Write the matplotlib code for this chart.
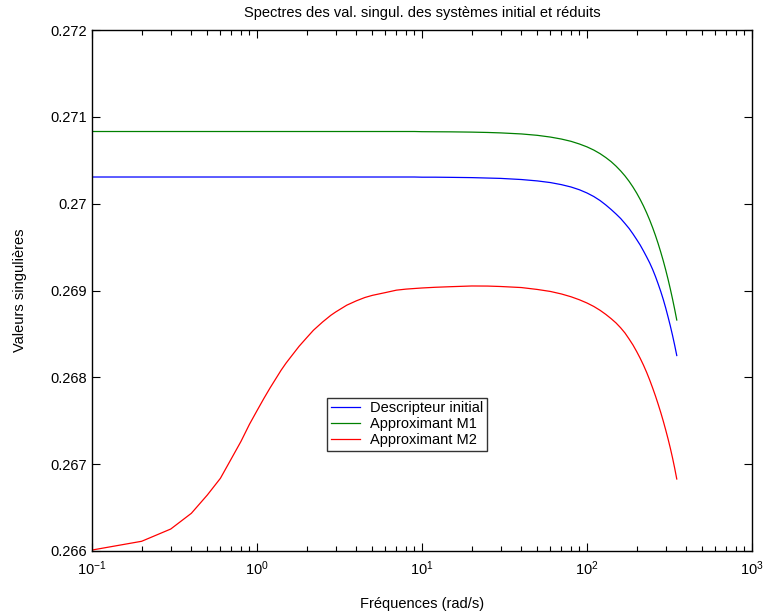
import matplotlib
matplotlib.use("Agg")
import matplotlib.pyplot as plt
from matplotlib.ticker import FixedLocator, FixedFormatter, LogLocator, NullFormatter

plt.rcParams['font.family'] = ['Liberation Sans', 'DejaVu Sans']
plt.rcParams['mathtext.fontset'] = 'custom'
plt.rcParams['mathtext.rm'] = 'Liberation Sans'
plt.rcParams['mathtext.it'] = 'Liberation Sans'
plt.rcParams['mathtext.default'] = 'regular'

# Frequency grid (rad/s)
freqs = [0.1, 0.2, 0.3, 0.4, 0.5, 0.6, 0.7, 0.8, 0.9, 1.0,
         1.1, 1.2, 1.3, 1.4, 1.5, 1.6, 1.8, 2.0, 2.2, 2.5, 2.8,
         3.0, 3.5, 4, 4.5, 5, 6, 7, 8, 9, 10,
         12, 15, 20, 25, 30, 40, 50, 60, 70, 80, 90,
         100, 110, 120, 130, 140, 150, 160, 170, 180, 190, 200,
         210, 220, 230, 240, 250, 260, 270, 280, 290, 300,
         310, 320, 330, 340, 350]

# Singular values of the initial descriptor system
sv_initial = [0.270307] * 30 + [
    0.270305,
    0.270305, 0.270303, 0.270300, 0.270295, 0.270291, 0.270278,
    0.270262, 0.270243, 0.270219, 0.270192, 0.270160,
    0.270123, 0.270082, 0.270036, 0.269985, 0.269933, 0.269881,
    0.269829, 0.269771, 0.269714, 0.269651, 0.269587, 0.269524,
    0.269455, 0.269386, 0.269317, 0.269242, 0.269161, 0.269075,
    0.268988, 0.268896, 0.268798, 0.268695, 0.268591, 0.268482,
    0.268369, 0.268251]

# Singular values of reduced model M1
sv_m1 = [0.270831] * 30 + [
    0.270829,
    0.270828, 0.270827, 0.270824, 0.270820, 0.270815, 0.270803,
    0.270787, 0.270767, 0.270744, 0.270718, 0.270687,
    0.270654, 0.270617, 0.270576, 0.270531, 0.270484, 0.270432,
    0.270377, 0.270319, 0.270257, 0.270191, 0.270122, 0.270049,
    0.269973, 0.269893, 0.269810, 0.269723, 0.269633, 0.269539,
    0.269441, 0.269341, 0.269236, 0.269128, 0.269016, 0.268901,
    0.268782, 0.268660]

# Singular values of reduced model M2
sv_m2 = [
    0.266011, 0.266112, 0.266253, 0.266434, 0.266645, 0.266837,
    0.267065, 0.267263, 0.267459, 0.267616,
    0.267756, 0.267878, 0.267984, 0.268082, 0.268164, 0.268233,
    0.268358, 0.268456, 0.268543, 0.268638, 0.268714,
    0.268753, 0.268831, 0.268881, 0.268919, 0.268944, 0.268976,
    0.269004, 0.269016, 0.269023, 0.269029,
    0.269037, 0.269044, 0.269052, 0.269051, 0.269046, 0.269034,
    0.269012, 0.268989, 0.268960, 0.268928, 0.268893,
    0.268856, 0.268816, 0.268772, 0.268725, 0.268676, 0.268626,
    0.268570, 0.268510, 0.268441, 0.268372, 0.268297, 0.268220,
    0.268140, 0.268056, 0.267968, 0.267877, 0.267785, 0.267690,
    0.267594, 0.267495, 0.267393, 0.267290, 0.267183, 0.267071,
    0.266953, 0.266829]

labels = ['Descripteur initial', 'Approximant M1', 'Approximant M2']
colors = ['#0000ff', '#008000', '#ff0000']

ytick_values = [0.266, 0.267, 0.268, 0.269, 0.270, 0.271, 0.272]
ytick_labels = ['0.266', '0.267', '0.268', '0.269', '0.27', '0.271', '0.272']
xtick_values = [1e-1, 1e0, 1e1, 1e2, 1e3]
xtick_labels = [r'$10^{-1}$', r'$10^{0}$', r'$10^{1}$', r'$10^{2}$', r'$10^{3}$']

fig = plt.figure(figsize=(7.67, 6.15), dpi=100)
ax = fig.add_axes([92 / 767, 1 - 551 / 615, 660 / 767, 521 / 615])

for series, lab, col in zip([sv_initial, sv_m1, sv_m2], labels, colors):
    ax.plot(freqs, series, color=col, linewidth=0.9, label=lab)

ax.set_xscale('log')
ax.set_xlim(0.1, 1000)
ax.set_ylim(0.266, 0.272)

ax.xaxis.set_major_locator(FixedLocator(xtick_values))
ax.xaxis.set_major_formatter(FixedFormatter(xtick_labels))
ax.xaxis.set_minor_locator(LogLocator(base=10, subs=range(2, 10), numticks=20))
ax.xaxis.set_minor_formatter(NullFormatter())
ax.yaxis.set_major_locator(FixedLocator(ytick_values))
ax.yaxis.set_major_formatter(FixedFormatter(ytick_labels))

ax.tick_params(which='both', direction='in', top=True, right=True,
               labelsize=10.5, width=0.8, colors='black')
ax.tick_params(which='major', length=6)
ax.tick_params(which='minor', length=3.5)
ax.tick_params(axis='x', which='major', pad=6)
for sp in ax.spines.values():
    sp.set_linewidth(1.0)

ax.set_title('Spectres des val. singul. des systèmes initial et réduits',
             fontsize=10.5, pad=9)
ax.set_xlabel('Fréquences (rad/s)', fontsize=10.5, labelpad=14)
ax.set_ylabel('Valeurs singulières', fontsize=10.5, labelpad=17)

leg = ax.legend(loc='upper left', bbox_to_anchor=(0.356, 0.294), fontsize=10.5,
                frameon=True, fancybox=False, shadow=False, borderpad=0.25,
                handlelength=2.0, handletextpad=0.7, labelspacing=0.12,
                borderaxespad=0)
leg.get_frame().set_edgecolor('black')
leg.get_frame().set_linewidth(1.0)

fig.savefig('out.png', dpi=100)
